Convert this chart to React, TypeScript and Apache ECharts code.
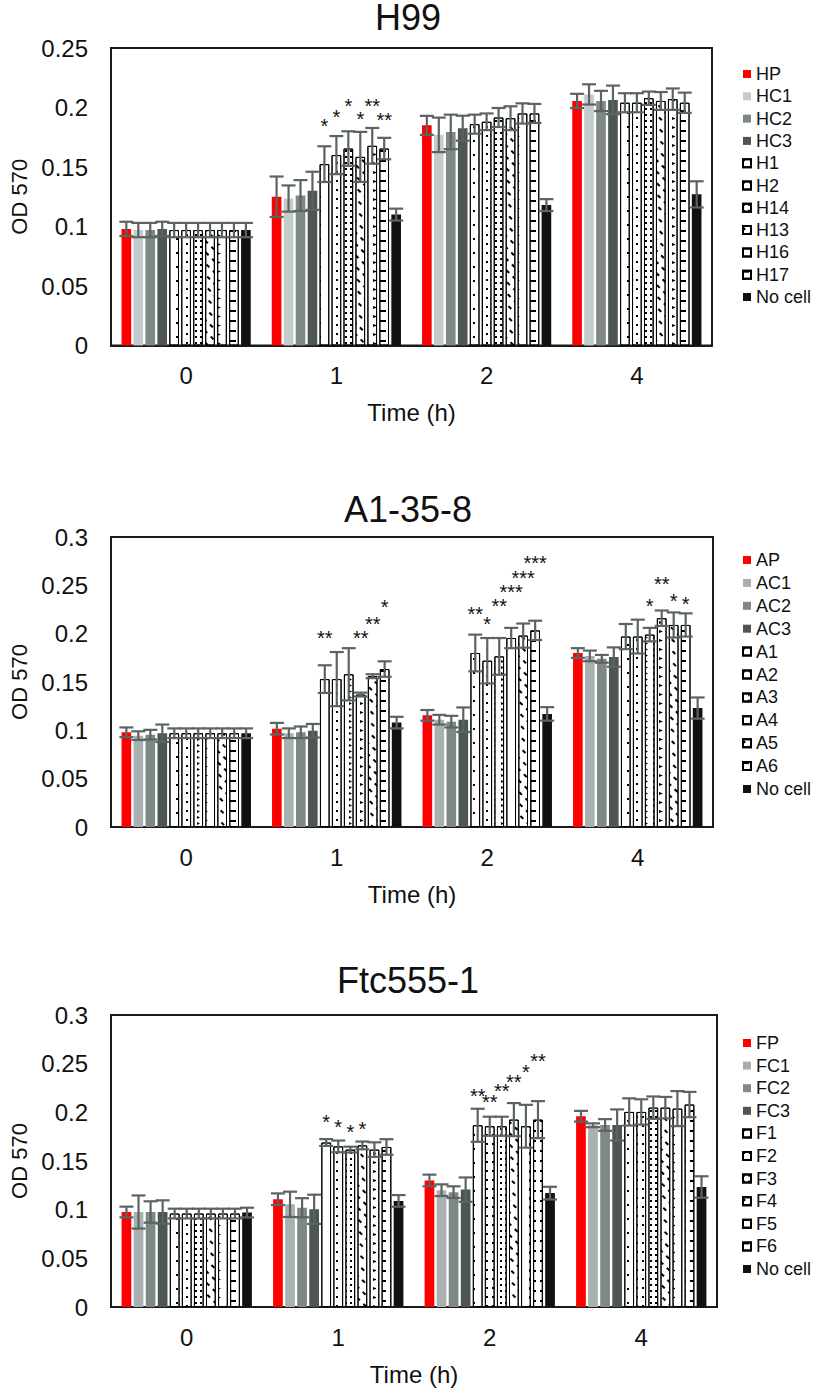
import React, { useEffect, useRef } from 'react';
import * as echarts from 'echarts';

const FONT = '"Liberation Sans", Arial, Helvetica, sans-serif';
const HOURS = ['0', '1', '2', '4'];

// ---------- H99 ----------
const H99_NAMES = ['HP', 'HC1', 'HC2', 'HC3', 'H1', 'H2', 'H14', 'H13', 'H16', 'H17', 'No cell'];
const H99_MEAN = [
  [0.098, 0.125, 0.185, 0.2055],
  [0.097, 0.1235, 0.177, 0.211],
  [0.097, 0.126, 0.1795, 0.2055],
  [0.098, 0.13, 0.1826, 0.2064],
  [0.097, 0.1524, 0.186, 0.204],
  [0.097, 0.16, 0.188, 0.204],
  [0.097, 0.1655, 0.1916, 0.2078],
  [0.097, 0.1585, 0.191, 0.2055],
  [0.097, 0.1678, 0.195, 0.207],
  [0.097, 0.1655, 0.195, 0.204],
  [0.097, 0.11, 0.118, 0.127],
];
const H99_ERR = [
  [0.006, 0.017, 0.008, 0.006],
  [0.006, 0.011, 0.0145, 0.0085],
  [0.006, 0.013, 0.0145, 0.0085],
  [0.006, 0.016, 0.0105, 0.012],
  [0.006, 0.015, 0.008, 0.008],
  [0.006, 0.016, 0.007, 0.008],
  [0.006, 0.0145, 0.008, 0.0056],
  [0.006, 0.021, 0.01, 0.0075],
  [0.006, 0.015, 0.0085, 0.009],
  [0.006, 0.009, 0.008, 0.0085],
  [0.006, 0.005, 0.005, 0.011],
];
// [hour index, series index, star height, number of stars]
const H99_STARS = [
  [1, 4, 0.188, 1], [1, 5, 0.196, 1], [1, 6, 0.2055, 1],
  [1, 7, 0.194, 1], [1, 8, 0.2055, 2], [1, 9, 0.193, 2],
];
const H99_COLORS = ['#fe0000', '#c5cbca', '#7d8887', '#4d5655'];
const H99_PATTERNS = ['sparse', 'dots', 'dense', 'diag', 'chev', 'hdash'];

// ---------- A1-35-8 ----------
const A_NAMES = ['AP', 'AC1', 'AC2', 'AC3', 'A1', 'A2', 'A3', 'A4', 'A5', 'A6', 'No cell'];
const A_MEAN = [
  [0.098, 0.1017, 0.1155, 0.18],
  [0.0945, 0.097, 0.111, 0.177],
  [0.0955, 0.098, 0.109, 0.174],
  [0.097, 0.0996, 0.111, 0.1758],
  [0.097, 0.153, 0.18, 0.197],
  [0.097, 0.153, 0.172, 0.197],
  [0.097, 0.158, 0.1765, 0.199],
  [0.097, 0.137, 0.1955, 0.216],
  [0.097, 0.156, 0.198, 0.209],
  [0.097, 0.1634, 0.2034, 0.209],
  [0.097, 0.108, 0.117, 0.123],
];
const A_ERR = [
  [0.005, 0.006, 0.0055, 0.005],
  [0.0045, 0.005, 0.005, 0.0055],
  [0.005, 0.006, 0.006, 0.004],
  [0.009, 0.007, 0.0127, 0.01],
  [0.005, 0.0143, 0.019, 0.013],
  [0.005, 0.028, 0.0235, 0.0175],
  [0.005, 0.027, 0.019, 0.007],
  [0.005, 0.002, 0.0105, 0.008],
  [0.005, 0.002, 0.0125, 0.013],
  [0.005, 0.008, 0.01, 0.012],
  [0.005, 0.006, 0.007, 0.011],
];
const A_STARS = [
  [1, 4, 0.2007, 2], [1, 7, 0.2007, 2], [1, 8, 0.215, 2], [1, 9, 0.2323, 1],
  [2, 4, 0.2255, 2], [2, 5, 0.215, 1], [2, 6, 0.2334, 2], [2, 7, 0.2482, 3],
  [2, 8, 0.262, 3], [2, 9, 0.2775, 3],
  [3, 6, 0.2334, 1], [3, 7, 0.2558, 2], [3, 8, 0.2385, 1], [3, 9, 0.235, 1],
];
const A_COLORS = ['#fe0000', '#a9b1b0', '#7d8887', '#4d5655'];
const A_PATTERNS = ['sparse', 'dots', 'denseChev', 'chev', 'diag', 'hdash'];

// ---------- Ftc555-1 ----------
const F_NAMES = ['FP', 'FC1', 'FC2', 'FC3', 'F1', 'F2', 'F3', 'F4', 'F5', 'F6', 'No cell'];
const F_MEAN = [
  [0.0976, 0.1107, 0.13, 0.196],
  [0.0976, 0.1055, 0.12, 0.1867],
  [0.0976, 0.102, 0.118, 0.187],
  [0.0976, 0.1004, 0.1206, 0.187],
  [0.096, 0.169, 0.1867, 0.2004],
  [0.096, 0.165, 0.1857, 0.2004],
  [0.096, 0.1617, 0.1857, 0.2048],
  [0.096, 0.166, 0.1925, 0.2048],
  [0.096, 0.1617, 0.1857, 0.2038],
  [0.096, 0.1644, 0.1925, 0.208],
  [0.097, 0.109, 0.117, 0.1233],
];
const F_ERR = [
  [0.0055, 0.006, 0.006, 0.0055],
  [0.017, 0.013, 0.006, 0.002],
  [0.011, 0.0098, 0.006, 0.006],
  [0.012, 0.015, 0.0125, 0.016],
  [0.005, 0.0035, 0.017, 0.014],
  [0.005, 0.006, 0.0098, 0.013],
  [0.005, 0.003, 0.0098, 0.0115],
  [0.005, 0.004, 0.017, 0.011],
  [0.005, 0.0075, 0.022, 0.018],
  [0.005, 0.008, 0.019, 0.013],
  [0.005, 0.006, 0.0065, 0.011],
];
const F_STARS = [
  [1, 4, 0.1946, 1], [1, 5, 0.19, 1], [1, 6, 0.185, 1], [1, 7, 0.1877, 1],
  [2, 4, 0.222, 2], [2, 5, 0.215, 2], [2, 6, 0.2268, 2], [2, 7, 0.2357, 2],
  [2, 8, 0.246, 1], [2, 9, 0.2576, 2],
];
const F_COLORS = ['#fe0000', '#a9b1b0', '#7d8887', '#4d5655'];
const F_PATTERNS = ['sparse', 'dots', 'dense', 'diag', 'chev', 'hdash'];

const NO_CELL_COLOR = '#111111';
const ERR_COLOR = '#5b6463';
const BAR_GAP = 0.24;
const CAT_GAP = 0.14;

const DECALS: Record<string, any> = {
  sparse: { symbol: 'rect', symbolSize: 1, symbolKeepAspect: false, dashArrayX: [1.6, 8.4], dashArrayY: [1.6, 12] },
  dots: { symbol: 'rect', symbolSize: 1, symbolKeepAspect: false, dashArrayX: [1.6, 4], dashArrayY: [1.6, 7] },
  dense: { symbol: 'rect', symbolSize: 1, symbolKeepAspect: false, dashArrayX: [1.5, 3], dashArrayY: [1.5, 4] },
  denseChev: { symbol: 'triangle', symbolSize: 1, symbolKeepAspect: false, dashArrayX: [2.5, 2.5], dashArrayY: [2.5, 4.5], rotation: Math.PI / 2 },
  chev: { symbol: 'triangle', symbolSize: 1, symbolKeepAspect: false, dashArrayX: [3, 6], dashArrayY: [3.5, 9], rotation: Math.PI / 2 },
  diag: { symbol: 'rect', symbolSize: 1, symbolKeepAspect: false, dashArrayX: [3.5, 5], dashArrayY: [1.3, 6], rotation: Math.PI / 4 },
  hdash: { symbol: 'rect', symbolSize: 1, symbolKeepAspect: false, dashArrayX: [6, 4], dashArrayY: [1.6, 7.5] },
};

interface PanelDef {
  title: string;
  names: string[];
  mean: number[][];
  err: number[][];
  stars: number[][];
  colors: string[];
  patterns: string[];
  yMax: number;
  grid: { left: number; top: number; width: number; height: number };
  titleTop: number;
  legendTop: number;
  legendGap: number;
}

const PANELS: PanelDef[] = [
  {
    title: 'H99', names: H99_NAMES, mean: H99_MEAN, err: H99_ERR, stars: H99_STARS,
    colors: H99_COLORS, patterns: H99_PATTERNS, yMax: 0.25,
    grid: { left: 105, top: 48, width: 607, height: 297.5 }, titleTop: 2, legendTop: 65, legendGap: 4.3,
  },
  {
    title: 'A1-35-8', names: A_NAMES, mean: A_MEAN, err: A_ERR, stars: A_STARS,
    colors: A_COLORS, patterns: A_PATTERNS, yMax: 0.3,
    grid: { left: 104, top: 537, width: 609, height: 290 }, titleTop: 494, legendTop: 551, legendGap: 4.9,
  },
  {
    title: 'Ftc555-1', names: F_NAMES, mean: F_MEAN, err: F_ERR, stars: F_STARS,
    colors: F_COLORS, patterns: F_PATTERNS, yMax: 0.3,
    grid: { left: 108, top: 1015, width: 609, height: 292 }, titleTop: 965, legendTop: 1034, legendGap: 4.6,
  },
];

function barOffset(api: any, cat: number, s: number, n: number) {
  const band = api.size([1, 0])[0];
  const w = (band * (1 - CAT_GAP)) / (n + (n - 1) * BAR_GAP);
  const center = api.coord([cat, 0])[0];
  return center + (s - (n - 1) / 2) * w * (1 + BAR_GAP);
}

function buildOption() {
  const titles: any[] = [];
  const grids: any[] = [];
  const xAxes: any[] = [];
  const yAxes: any[] = [];
  const legends: any[] = [];
  const series: any[] = [];

  PANELS.forEach((p, g) => {
    const n = p.names.length;
    titles.push({
      text: p.title, left: 'center', top: p.titleTop, padding: 0,
      textStyle: { fontSize: 36, lineHeight: 30, fontWeight: 'normal', color: '#111', fontFamily: FONT },
    });
    grids.push({
      left: p.grid.left, top: p.grid.top, width: p.grid.width, height: p.grid.height,
      show: true, borderColor: '#1a1a1a', borderWidth: 2, backgroundColor: 'transparent',
    });
    xAxes.push({
      type: 'category', gridIndex: g, data: HOURS,
      axisTick: { show: false },
      axisLine: { show: true, lineStyle: { color: '#1a1a1a', width: 2 } },
      axisLabel: { fontSize: 24, margin: 18, color: '#111', fontFamily: FONT },
      name: 'Time (h)', nameLocation: 'middle', nameGap: 55,
      nameTextStyle: { fontSize: 24, color: '#111', fontFamily: FONT },
    });
    yAxes.push({
      type: 'value', gridIndex: g, min: 0, max: p.yMax, interval: 0.05,
      splitLine: { show: false },
      axisTick: { show: false },
      axisLine: { show: true, lineStyle: { color: '#1a1a1a', width: 2 } },
      axisLabel: { fontSize: 24, margin: 23, color: '#111', fontFamily: FONT },
      name: 'OD 570', nameLocation: 'middle', nameGap: 81, nameRotate: 90,
      nameTextStyle: { fontSize: 22, color: '#111', fontFamily: FONT },
    });
    legends.push({
      data: p.names, orient: 'vertical', left: 742, top: p.legendTop,
      itemWidth: 8, itemHeight: 8, itemGap: p.legendGap, icon: 'rect', padding: 0,
      selectedMode: false,
      textStyle: { fontSize: 18, lineHeight: 18, color: '#111', fontFamily: FONT },
    });

    p.names.forEach((name, s) => {
      let itemStyle: any;
      if (s < 4) {
        itemStyle = { color: p.colors[s] };
      } else if (s === n - 1) {
        itemStyle = { color: NO_CELL_COLOR };
      } else {
        const d = DECALS[p.patterns[s - 4]];
        itemStyle = {
          color: '#ffffff', borderColor: '#000', borderWidth: 1,
          decal: { ...d, color: '#000', backgroundColor: '#ffffff' },
        };
      }
      series.push({
        type: 'bar', name, xAxisIndex: g, yAxisIndex: g,
        data: p.mean[s],
        barGap: `${BAR_GAP * 100}%`, barCategoryGap: `${CAT_GAP * 100}%`,
        itemStyle, emphasis: { disabled: true },
      });
    });

    const errData: number[][] = [];
    p.mean.forEach((row, s) => row.forEach((m, c) => errData.push([c, s, m, p.err[s][c]])));
    series.push({
      type: 'custom', name: `err-${g}`, xAxisIndex: g, yAxisIndex: g, silent: true, z: 5,
      encode: { x: 0, y: 2 },
      data: errData,
      renderItem: (_params: any, api: any) => {
        const cat = api.value(0), s = api.value(1), m = api.value(2), e = api.value(3);
        const cx = barOffset(api, cat, s, n);
        const yT = api.coord([cat, m + e])[1];
        const yB = api.coord([cat, m - e])[1];
        const hw = 7;
        const st = { stroke: ERR_COLOR, lineWidth: 2.2 };
        return {
          type: 'group',
          children: [
            { type: 'line', shape: { x1: cx, y1: yT, x2: cx, y2: yB }, style: st },
            { type: 'line', shape: { x1: cx - hw, y1: yT, x2: cx + hw, y2: yT }, style: st },
            { type: 'line', shape: { x1: cx - hw, y1: yB, x2: cx + hw, y2: yB }, style: st },
          ],
        };
      },
    });

    series.push({
      type: 'custom', name: `stars-${g}`, xAxisIndex: g, yAxisIndex: g, silent: true, z: 6,
      encode: { x: 0, y: 2 },
      data: p.stars,
      renderItem: (_params: any, api: any) => {
        const cat = api.value(0), s = api.value(1), yv = api.value(2), k = api.value(3);
        const cx = barOffset(api, cat, s, n);
        const y = api.coord([cat, yv])[1];
        const fs = 20;
        return {
          type: 'text', x: cx, y: y + 0.23 * fs,
          style: {
            text: '*'.repeat(k), fontSize: fs, lineHeight: 9, fontFamily: FONT, fill: '#111',
            align: 'center', verticalAlign: 'middle',
          },
        };
      },
    });
  });

  return {
    animation: false,
    backgroundColor: '#ffffff',
    title: titles,
    grid: grids,
    xAxis: xAxes,
    yAxis: yAxes,
    legend: legends,
    series,
  };
}

export default function App() {
  const ref = useRef<HTMLDivElement>(null);
  useEffect(() => {
    if (!ref.current) return;
    const chart = echarts.init(ref.current, null, { renderer: 'svg' });
    chart.setOption(buildOption() as any);
    return () => chart.dispose();
  }, []);
  return (
    <div
      ref={ref}
      style={{ position: 'absolute', left: 0, top: 0, width: 816, height: 1389 }}
    />
  );
}
